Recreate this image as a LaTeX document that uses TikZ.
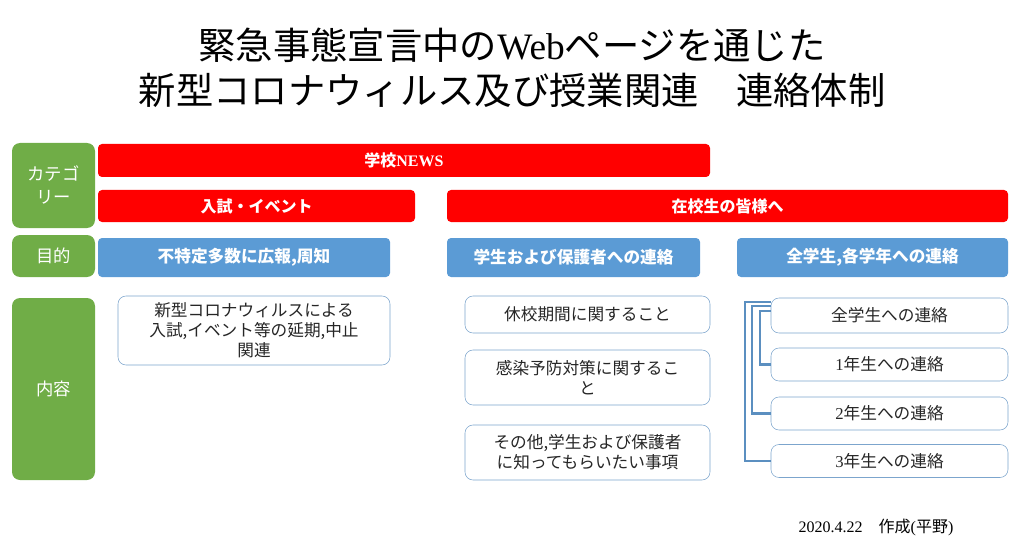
\documentclass[tikz,border=0pt]{standalone}
\usepackage{fontspec}
\setmainfont{Noto Sans CJK JP}
\newfontfamily\lat{Liberation Serif}
\definecolor{gr}{HTML}{70AD47}
\definecolor{rd}{HTML}{FF0000}
\definecolor{bl}{HTML}{5B9BD5}
\definecolor{ln}{HTML}{5B8FC0}
\begin{document}
\begin{tikzpicture}[x=0.75pt,y=-0.75pt,
 gbox/.style={fill=gr,rounded corners=6pt,text=white,font=\fontsize{13}{15}\selectfont,align=center},
 rbox/.style={fill=rd,rounded corners=3pt,text=white,font=\fontsize{12}{14}\selectfont\bfseries},
 bbox/.style={fill=bl,rounded corners=3pt,text=white,font=\fontsize{12.5}{14}\selectfont\bfseries},
 wbox/.style={draw=ln!80,rounded corners=6pt,fill=white,align=center,font=\fontsize{12.5}{14}\selectfont,text=black!85},
 conn/.style={draw=ln,line width=1.6pt}]
\useasboundingbox (0,0) rectangle (1024,556);
\node (t1) at (512,45) {\fontsize{28}{32}\selectfont 緊急事態宣言中の{\lat Web}ページを通じた};
\node (t2) at (512,90) {\fontsize{28}{32}\selectfont 新型コロナウィルス及び授業関連　連絡体制};
\path[gbox] (12,143) rectangle (95,228);
\node[text=white,align=center,font=\fontsize{13}{17}\selectfont] (g1) at (53.5,185) {カテゴ\\リー};
\path[gbox] (12,235) rectangle (95,277);
\node[text=white,font=\fontsize{13}{15}\selectfont] (g2) at (53.5,256) {目的};
\path[gbox] (12,298) rectangle (95,480);
\node[text=white,font=\fontsize{13}{15}\selectfont] (g3) at (53.5,389) {内容};
\path[rbox] (98,144) rectangle (710,177);
\node[text=white,font=\fontsize{12}{14}\selectfont\bfseries] (r1) at (404,160.5) {学校{\lat\bfseries NEWS}};
\path[rbox] (98,190) rectangle (415,222);
\node[text=white,font=\fontsize{12}{14}\selectfont\bfseries] (r2) at (256.5,206) {入試・イベント};
\path[rbox] (447,190) rectangle (1008,222);
\node[text=white,font=\fontsize{12}{14}\selectfont\bfseries] (r3) at (727.5,206) {在校生の皆様へ};
\path[bbox] (98,238) rectangle (390,277);
\node[text=white,font=\fontsize{12.5}{14}\selectfont\bfseries] (b1) at (244,257.5) {不特定多数に広報,周知};
\path[bbox] (447,238) rectangle (700,277);
\node[text=white,font=\fontsize{12.5}{14}\selectfont\bfseries] (b2) at (573.5,257.5) {学生および保護者への連絡};
\path[bbox] (737,238) rectangle (1008,277);
\node[text=white,font=\fontsize{12.5}{14}\selectfont\bfseries] (b3) at (872.5,257.5) {全学生,各学年への連絡};
\node[wbox,minimum width=272*0.75pt,minimum height=69*0.75pt,font=\fontsize{12.5}{15}\selectfont] (w1) at (254,330.5) {新型コロナウィルスによる\\入試,イベント等の延期,中止\\関連};
\node[wbox,minimum width=245*0.75pt,minimum height=37*0.75pt] (m1) at (587.5,314.5) {休校期間に関すること};
\node[wbox,minimum width=245*0.75pt,minimum height=55*0.75pt,text width=220*0.75pt,font=\fontsize{12.5}{15}\selectfont] (m2) at (587.5,377.5) {感染予防対策に関するこ\\と};
\node[wbox,minimum width=245*0.75pt,minimum height=55*0.75pt,font=\fontsize{12.5}{15}\selectfont] (m3) at (587.5,452.5) {その他,学生および保護者\\に知ってもらいたい事項};
\node[wbox,minimum width=237*0.75pt,minimum height=35*0.75pt] (a0) at (889.5,315.5) {全学生への連絡};
\node[wbox,minimum width=237*0.75pt,minimum height=33*0.75pt] (a1) at (889.5,364.5) {{\lat 1}年生への連絡};
\node[wbox,minimum width=237*0.75pt,minimum height=33*0.75pt] (a2) at (889.5,413.5) {{\lat 2}年生への連絡};
\node[wbox,minimum width=237*0.75pt,minimum height=33*0.75pt] (a3) at (889.5,461) {{\lat 3}年生への連絡};
\begin{scope}[on background layer/.style={}]
\draw[conn] (a0.west |- 0,302) -- (745,302) |- (a3.west);
\draw[conn] (a0.west |- 0,306) -- (752,306) |- (a2.west);
\draw[conn] (a0.west |- 0,311) -- (760,311) |- (a1.west);
\end{scope}
\node[font=\fontsize{12}{14}\selectfont] (ft) at (876,527) {{\lat 2020.4.22}　作成{\lat (}平野{\lat )}};
\end{tikzpicture}
\end{document}
